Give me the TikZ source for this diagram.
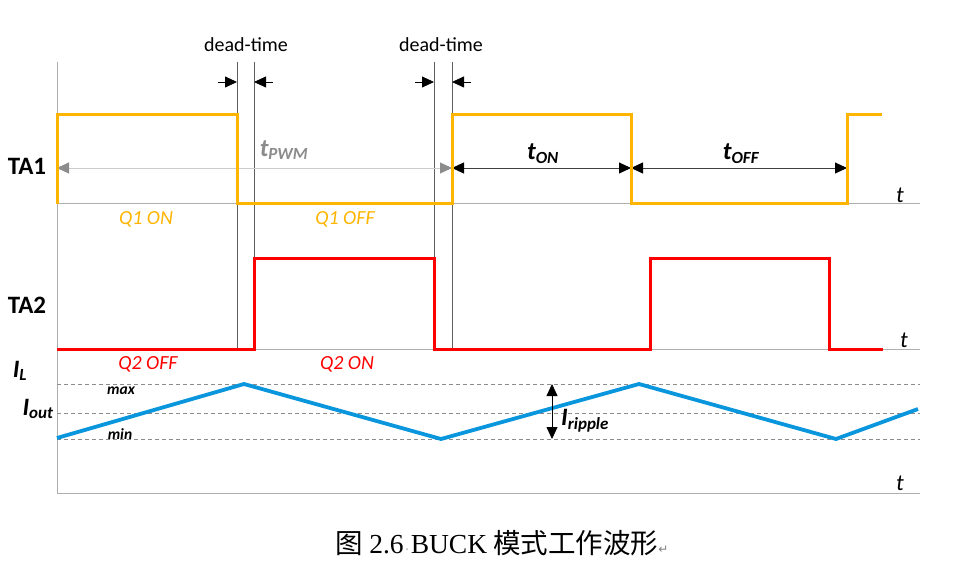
\documentclass[tikz,border=0pt]{standalone}
\usepackage{fontspec}
\setmainfont{Carlito}
\newfontfamily\cjkfont{Noto Sans CJK SC}
\newfontfamily\capserif{Liberation Serif}
\newfontfamily\symfont{DejaVu Sans}
\usetikzlibrary{arrows.meta}
\definecolor{gold}{RGB}{255,180,0}
\definecolor{wred}{RGB}{255,0,0}
\definecolor{wblue}{RGB}{10,150,220}
\definecolor{axgrey}{RGB}{175,175,175}
\definecolor{vgrey}{RGB}{95,95,95}
\definecolor{pwmgrey}{RGB}{140,140,140}
\tikzset{
  axisline/.style={axgrey,line width=1pt},
  guideline/.style={vgrey,line width=0.8pt},
  dashline/.style={pwmgrey,line width=0.9pt,dash pattern=on 4pt off 3pt},
  goldwave/.style={gold,line width=3pt},
  redwave/.style={wred,line width=3pt},
  bluewave/.style={wblue,line width=3.8pt,line join=miter},
  deadarrow/.style={black,line width=0.8pt,-{Triangle[length=12pt,width=11pt]}},
  dimarrow/.style={black!75,line width=0.9pt,{Triangle[length=12pt,width=11pt,black]}-{Triangle[length=12pt,width=11pt,black]}},
  pwmarrow/.style={black!20,line width=0.9pt,{Triangle[length=12pt,width=11pt,pwmgrey]}-{Triangle[length=12pt,width=11pt,pwmgrey]}},
  ripplearrow/.style={black,line width=0.8pt,{Triangle[length=12pt,width=11pt]}-{Triangle[length=12pt,width=11pt]}},
  sig/.style={font=\fontsize{25}{27}\selectfont\bfseries,inner sep=0pt},
  deadlbl/.style={font=\fontsize{20}{22}\selectfont,inner sep=0pt},
  tlbl/.style={font=\fontsize{23}{25}\selectfont\itshape,inner sep=0pt},
  qlbl/.style={font=\fontsize{20}{22}\selectfont\itshape,inner sep=0pt},
  durlbl/.style={font=\fontsize{25}{27}\selectfont\bfseries\itshape,inner sep=0pt},
  ilbl/.style={font=\fontsize{25}{27}\selectfont\bfseries\itshape,inner sep=0pt},
  small/.style={font=\fontsize{15.5}{17}\selectfont\bfseries\itshape,inner sep=0pt},
}
\begin{document}
\begin{tikzpicture}[x=1pt,y=-1pt]
\useasboundingbox (0,0) rectangle (955,561);
% axes
\coordinate (o1) at (57,204); \coordinate (e1) at (920,204);
\coordinate (o2) at (57,349); \coordinate (e2) at (920,349);
\coordinate (o3) at (57,493); \coordinate (e3) at (920,493);
\coordinate (vtop) at (57,62);
\draw[axisline] (vtop) -- (o3);
\draw[axisline] (o1) -- (e1);
\draw[axisline] (o2) -- (e2);
\draw[axisline] (o3) -- (e3);
% dashed current levels
\coordinate (mx0) at (57,384); \coordinate (mx1) at (920,384);
\coordinate (av0) at (57,413); \coordinate (av1) at (920,413);
\coordinate (mn0) at (57,439); \coordinate (mn1) at (920,439);
\draw[dashline] (mx0) -- (mx1);
\draw[dashline] (av0) -- (av1);
\draw[dashline] (mn0) -- (mn1);
% dead-time guide lines
\foreach \x/\n in {237/ga,254/gb,434/gc,452/gd}{
  \coordinate (\n t) at (\x,62); \coordinate (\n b) at (\x,349);
  \draw[guideline] (\n t) -- (\n b);
}
% dead-time arrows
\coordinate (da0) at (218,82); \coordinate (da1) at (237,82);
\coordinate (db0) at (273,82); \coordinate (db1) at (254,82);
\coordinate (dc0) at (415,82); \coordinate (dc1) at (434,82);
\coordinate (dd0) at (471,82); \coordinate (dd1) at (452,82);
\draw[deadarrow] (da0) -- (da1);
\draw[deadarrow] (db0) -- (db1);
\draw[deadarrow] (dc0) -- (dc1);
\draw[deadarrow] (dd0) -- (dd1);
\node[deadlbl] (dt1) at (246,45) {dead-time};
\node[deadlbl] (dt2) at (441,45) {dead-time};
% period arrows
\coordinate (p0) at (57,168); \coordinate (p1) at (452,168);
\coordinate (p2) at (631,168); \coordinate (p3) at (847,168);
\draw[pwmarrow] (p0) -- (p1);
\draw[dimarrow] (p1) -- (p2);
\draw[dimarrow] (p2) -- (p3);
\node[durlbl,text=pwmgrey] (tpwm) at (284,150) {t\textsubscript{\fontsize{17}{19}\selectfont PWM}};
\node[durlbl] (ton) at (543,154) {t\textsubscript{\fontsize{17}{19}\selectfont ON}};
\node[durlbl] (toff) at (741,154) {t\textsubscript{\fontsize{17}{19}\selectfont OFF}};
% waveforms
\draw[goldwave] (57,204) -- (57,115) -- (237,115) -- (237,204) -- (452,204) -- (452,115) -- (631,115) -- (631,204) -- (847,204) -- (847,115) -- (882,115);
\draw[redwave] (57,349) -- (254,349) -- (254,259) -- (434,259) -- (434,349) -- (650,349) -- (650,259) -- (829,259) -- (829,349) -- (883,349);
\draw[bluewave] (57,438) -- (244,384) -- (441,439) -- (639,384) -- (836,439) -- (918,409);
% ripple
\coordinate (r0) at (552,384); \coordinate (r1) at (552,439);
\draw[ripplearrow] (r0) -- (r1);
\node[ilbl,anchor=west] (irip) at (561,421) {I\textsubscript{\fontsize{17}{19}\selectfont ripple}};
% labels
\node[sig] (ta1) at (27,166) {TA1};
\node[sig] (ta2) at (27,305) {TA2};
\node[ilbl] (il) at (20,371) {I\textsubscript{\fontsize{17}{19}\selectfont L}};
\node[ilbl] (iout) at (38,409) {I\textsubscript{\fontsize{17}{19}\selectfont out}};
\node[small] (mxl) at (121,391) {max};
\node[small] (mnl) at (120,434) {min};
\node[tlbl] (t1) at (900,195) {t};
\node[tlbl] (t2) at (904,340) {t};
\node[tlbl] (t3) at (900,483) {t};
\node[qlbl,text=gold] (q1on) at (146,219) {Q1 ON};
\node[qlbl,text=gold] (q1off) at (345,219) {Q1 OFF};
\node[qlbl,text=wred] (q2off) at (148,364) {Q2 OFF};
\node[qlbl,text=wred] (q2on) at (347,364) {Q2 ON};
% caption
\node[inner sep=0pt,font=\fontsize{27.5}{30}\selectfont] (cap) at (502,543)
  {{\cjkfont 图} {\capserif 2.6}{\color{gray}\symfont\fontsize{11}{11}\selectfont\,·\,}{\capserif BUCK} {\cjkfont 模式工作波形}{\color{gray}\symfont\fontsize{12}{12}\selectfont ↵}};
\end{tikzpicture}
\end{document}
